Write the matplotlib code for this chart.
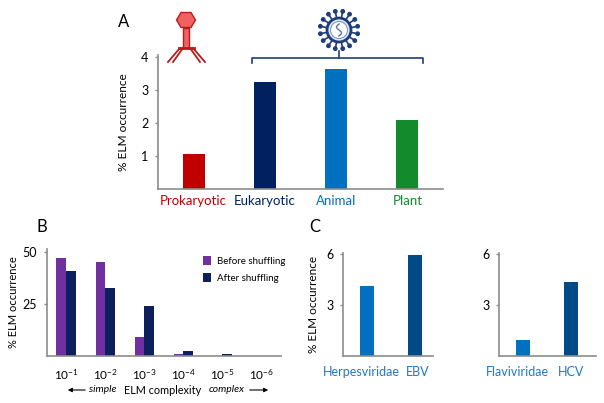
import numpy as np
import matplotlib
matplotlib.use("Agg")
import matplotlib.pyplot as plt
from matplotlib.patches import Polygon, Rectangle, Circle

plt.rcParams['font.family'] = ['Lato', 'DejaVu Sans']
plt.rcParams['mathtext.fontset'] = 'custom'
plt.rcParams['mathtext.rm'] = 'Lato'
plt.rcParams['mathtext.it'] = 'Lato:italic'

# panel A
a_cats = ['Prokaryotic', 'Eukaryotic', 'Animal', 'Plant']
a_vals = [1.06, 3.25, 3.63, 2.09]
a_cols = ['#c00000', '#002060', '#0070c0', '#138a2b']

# panel B
b_ticks = ['$\\mathregular{10^{-1}}$', '$\\mathregular{10^{-2}}$', '$\\mathregular{10^{-3}}$',
           '$\\mathregular{10^{-4}}$', '$\\mathregular{10^{-5}}$', '$\\mathregular{10^{-6}}$']
b_before = [47.0, 45.4, 9.0, 0.8, 0.0, 0.0]
b_after = [40.8, 32.7, 24.0, 2.2, 1.0, 0.0]

# panel C
c1_cats = ['Herpesviridae', 'EBV']
c1_vals = [4.12, 5.94]
c2_cats = ['Flaviviridae', 'HCV']
c2_vals = [0.94, 4.37]
c_cols = ['#0070c0', '#004b87']

W, H = 604, 403
fig = plt.figure(figsize=(W / 100, H / 100), dpi=100)
grey = '#8c8c8c'


def box(l, t, r, b):
    return [l / W, 1 - b / H, (r - l) / W, (b - t) / H]


def tidy(ax):
    for s in ['top', 'right']:
        ax.spines[s].set_visible(False)
    for s in ['left', 'bottom']:
        ax.spines[s].set_color(grey)
        ax.spines[s].set_linewidth(1.2)
    ax.tick_params(axis='y', length=2, color=grey, width=1, pad=5, labelsize=9)
    ax.tick_params(axis='x', length=0)


# ---- A
axA = fig.add_axes(box(158, 55, 443, 189))
xa = np.arange(len(a_cats))
axA.bar(xa, a_vals, width=0.31, color=a_cols)
axA.set_xlim(-0.5, 3.5)
axA.set_ylim(0, 4.06)
axA.set_yticks([1, 2, 3, 4])
axA.set_xticks(xa)
axA.set_xticklabels(a_cats, fontsize=9.5)
for lab, c in zip(axA.get_xticklabels(), a_cols):
    lab.set_color(c)
tidy(axA)
axA.tick_params(axis='x', pad=4)
axA.set_ylabel('% ELM occurrence', fontsize=8.6)
axA.yaxis.set_label_coords(-0.102, 0.5)

# ---- B
axB = fig.add_axes(box(46.7, 249, 281, 356))
xb = np.arange(len(b_ticks))
axB.bar(xb - 0.125, b_before, width=0.25, color='#7030a0', label='Before shuffling')
axB.bar(xb + 0.125, b_after, width=0.25, color='#0d1f5c', label='After shuffling')
axB.set_xlim(-0.5, 5.5)
axB.set_ylim(0, 51.5)
axB.set_yticks([25, 50])
axB.set_xticks(xb)
axB.set_xticklabels(b_ticks, fontsize=8.5)
tidy(axB)
axB.tick_params(axis='x', pad=8)
axB.set_ylabel('% ELM occurrence', fontsize=8)
axB.yaxis.set_label_coords(-0.12, 0.5)
axB.legend(loc='upper left', bbox_to_anchor=(0.665, 0.93), frameon=False, fontsize=7,
           handlelength=0.9, handleheight=1.0, handletextpad=0.6, labelspacing=0.75,
           borderpad=0, borderaxespad=0)

# ---- C
# label nudges (px) - the labels in the original sit a bit off-centre
for (l, r), cats, vals, nudge, lab in [((343, 433), c1_cats, c1_vals, [-6, 2.5], True),
                                        ((499, 596), c2_cats, c2_vals, [-5.5, 0], False)]:
    ax = fig.add_axes(box(l, 253, r, 356))
    xc = np.arange(len(cats))
    ax.bar(xc, vals, width=0.31, color=c_cols)
    ax.set_xlim(-0.5, (r - l) / 48 - 0.5)
    ax.set_ylim(0, 6.06)
    ax.set_yticks([3, 6])
    ax.set_xticks(xc + np.array(nudge) / 48)
    ax.set_xticklabels(cats, fontsize=9, color='#1f78c8')
    tidy(ax)
    ax.tick_params(axis='x', pad=7)
    if lab:
        ax.set_ylabel('% ELM occurrence', fontsize=8.5)
        ax.yaxis.set_label_coords(-0.267, 0.5)

# ---- overlay: panel letters, icons, bracket, arrows
ov = fig.add_axes([0, 0, 1, 1])
ov.set_xlim(0, W)
ov.set_ylim(H, 0)
ov.axis('off')
ov.patch.set_alpha(0)

ov.text(124, 22, 'A', fontsize=12, ha='center', va='center')
ov.text(42, 227, 'B', fontsize=12, ha='center', va='center')
ov.text(315, 227, 'C', fontsize=12, ha='center', va='center')

ov.text(163, 390, 'ELM complexity', fontsize=7.8, ha='center', va='center')
ov.text(103, 389, 'simple', fontsize=7.5, style='italic', ha='center', va='center')
ov.text(227, 389, 'complex', fontsize=7.5, style='italic', ha='center', va='center')
ov.annotate('', xy=(65, 390), xytext=(88, 390),
            arrowprops=dict(arrowstyle='-|>', color='black', lw=0.8, mutation_scale=6))
ov.annotate('', xy=(271, 390), xytext=(247, 390),
            arrowprops=dict(arrowstyle='-|>', color='black', lw=0.8, mutation_scale=6))

# phage
red_f, red_e = '#f26060', '#b81c1c'
cx, cy = 186, 20
head = [(cx - 9.5, cy), (cx - 5, cy - 7.5), (cx + 5, cy - 7.5),
        (cx + 9.5, cy), (cx + 5, cy + 7.5), (cx - 5, cy + 7.5)]
ov.add_patch(Polygon(head, closed=True, fc=red_f, ec=red_e, lw=1))
ov.add_patch(Rectangle((183, 27.5), 6, 20, fc=red_f, ec=red_e, lw=1))
ov.plot([179, 194], [48, 48], color=red_e, lw=2)
for x0, x1 in [(180, 168), (183, 173), (190, 200), (193, 205)]:
    ov.plot([x0, x1], [48, 62], color=red_e, lw=1.3)

# virus
navy = '#1f3d7a'
vx, vy = 339, 30
ang = np.linspace(0, 2 * np.pi, 16, endpoint=False) + np.pi / 16
for t in ang:
    ov.plot([vx + 12 * np.cos(t), vx + 18 * np.cos(t)],
            [vy + 12 * np.sin(t), vy + 18 * np.sin(t)], color=navy, lw=1.2)
    ov.add_patch(Circle((vx + 19 * np.cos(t), vy + 19 * np.sin(t)), 2.4, fc=navy, ec='none'))
ov.add_patch(Circle((vx, vy), 12, fc='#dfe8f4', ec=navy, lw=2))
ov.add_patch(Circle((vx, vy), 8.5, fc='white', ec='#7a9cc8', lw=0.8))
ss = np.linspace(-1, 1, 40)
ov.plot(vx + 2.5 * np.sin(ss * 3.2), vy + 6 * ss, color='#5a78a8', lw=1)

# bracket
ov.plot([252, 252, 423, 423], [63, 57.5, 57.5, 63], color=navy, lw=1.2)
ov.plot([vx, vx], [vy + 21, 57.5], color=navy, lw=1.2)

fig.savefig('out.png', dpi=100)
